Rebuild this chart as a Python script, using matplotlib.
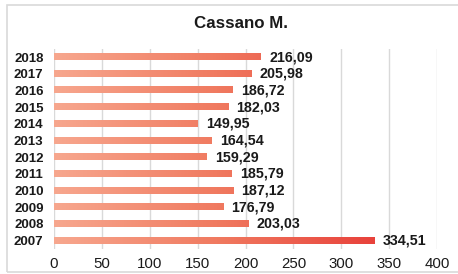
import numpy as np
import matplotlib.pyplot as plt
from matplotlib.colors import LinearSegmentedColormap
from matplotlib.patches import Rectangle

years = ['2007', '2008', '2009', '2010', '2011', '2012', '2013', '2014', '2015', '2016', '2017', '2018']
values = [334.51, 203.03, 176.79, 187.12, 185.79, 159.29, 164.54, 149.95, 182.03, 186.72, 205.98, 216.09]
labels = ['334,51', '203,03', '176,79', '187,12', '185,79', '159,29', '164,54', '149,95', '182,03', '186,72', '205,98', '216,09']
xticks = [0, 50, 100, 150, 200, 250, 300, 350, 400]

plt.rcParams['font.family'] = ['Liberation Sans', 'DejaVu Sans']

fig = plt.figure(figsize=(4.58, 2.74), dpi=100)
# outer chart frame
fig.patches.append(Rectangle((7 / 458, 2 / 274), 1.0, 267 / 274, transform=fig.transFigure,
                             fill=False, edgecolor='#d9d9d9', lw=1.2))

ax = fig.add_axes([54 / 458, 1 - 249 / 274, (437 - 54) / 458, (249 - 48.7) / 274])
cmap = LinearSegmentedColormap.from_list('grad', ['#f7a78e', '#f07a60', '#e8403a'])
h = 0.36
xmax_grad = 340.0
ypos = np.arange(len(years))
for y, v in zip(ypos, values):
    # gradient follows x position, so each bar shows only its own part of it
    grad = np.linspace(0, v / xmax_grad, 256).reshape(1, -1)
    ax.imshow(grad, extent=(0, v, y - h / 2, y + h / 2), cmap=cmap, vmin=0, vmax=1,
              aspect='auto', interpolation='bilinear', zorder=3)
for y, v, lab in zip(ypos, values, labels):
    ax.text(v + 8.5, y, lab, va='center', ha='left', fontsize=10.3, fontweight='bold', color='#1a1a1a')

ax.set_xlim(0, 400)
ax.set_ylim(-0.5, len(years) - 0.5)
ax.set_yticks(ypos)
ax.set_yticklabels(years, fontsize=9.5, fontweight='bold', color='#1a1a1a')
ax.set_xticks(xticks)
ax.set_xticklabels([str(t) for t in xticks], fontsize=10.8, color='#1a1a1a')
ax.tick_params(axis='both', length=0)
ax.tick_params(axis='y', pad=7.5)
ax.tick_params(axis='x', pad=6)
ax.grid(axis='x', color='#d9d9d9', lw=1)
ax.set_axisbelow(True)
for s in ax.spines.values():
    s.set_visible(False)

fig.text(241 / 458, 1 - 24 / 274, 'Cassano M.', ha='center', va='center', fontsize=12.2, fontweight='bold',
         color='#1a1a1a')

fig.savefig('out.png', dpi=100)
